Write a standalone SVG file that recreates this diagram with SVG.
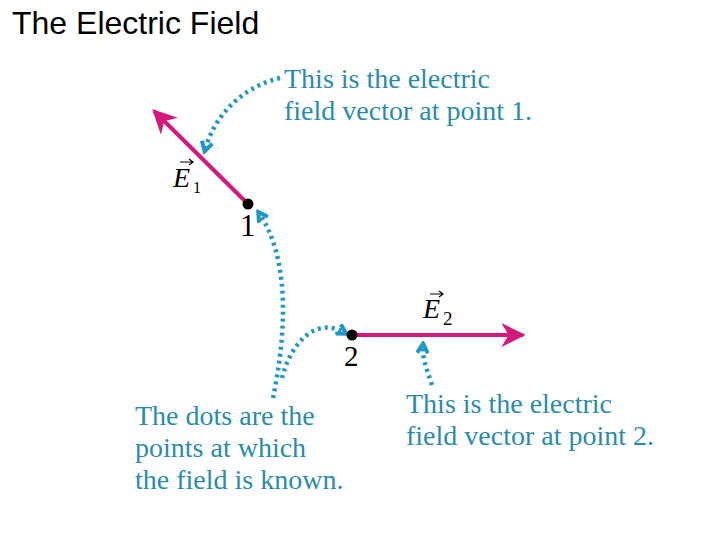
<svg xmlns="http://www.w3.org/2000/svg" width="720" height="540" viewBox="0 0 720 540">
<style>
.title{font-family:"Liberation Sans",Arial,sans-serif;font-size:32px;fill:#000}
.note{font-family:"Liberation Serif","Times New Roman",serif;font-size:28px;fill:#2a8bab}
.lbl{font-family:"Liberation Serif","Times New Roman",serif;fill:#000}
.vec{stroke:#d4187c;stroke-width:4;fill:none}
.dot{stroke:#1f98c6;stroke-width:4.5;fill:none;stroke-dasharray:3 4}
</style>
<defs>
<marker id="mag" viewBox="0 0 10 10" refX="9" refY="5" markerWidth="6" markerHeight="6" markerUnits="strokeWidth" orient="auto">
<path d="M0,0 L10,5 L0,10 L3,5 Z" fill="#d4187c"/>
</marker>
<marker id="chev" viewBox="0 0 10 10" refX="7" refY="5" markerWidth="3" markerHeight="3" markerUnits="strokeWidth" orient="auto">
<path d="M1,1 L8,5 L1,9" fill="none" stroke="#1f98c6" stroke-width="3"/>
</marker>
</defs>
<text class="title" x="12" y="34">The Electric Field</text>
<g id="connectors">
<path class="dot" d="M280,78 C245,86 215,113 205,150" marker-end="url(#chev)"/>
<path class="dot" d="M273,398 C285,340 292,262 259,213" marker-end="url(#chev)"/>
<path class="dot" d="M282,378 C290,345 315,315 345,333" marker-end="url(#chev)"/>
<path class="dot" d="M432,385 C428,372 422,360 423,345" marker-end="url(#chev)"/>
</g>
<g id="point1">
<line class="vec" x1="248" y1="204" x2="154" y2="111" marker-end="url(#mag)"/>
<circle cx="248" cy="204" r="5.5" fill="#000"/>
<text class="lbl" x="240" y="236" style="font-size:31px">1</text>
<text class="lbl" x="173" y="187" style="font-size:28px;font-style:italic">E</text>
<text class="lbl" x="193" y="193" style="font-size:16px">1</text>
<path d="M180,162 L192,162 M189,159 L193,162 L189,165" stroke="#000" stroke-width="1.2" fill="none"/>
</g>
<g id="point2">
<line class="vec" x1="352" y1="335" x2="523" y2="335" marker-end="url(#mag)"/>
<circle cx="352" cy="335" r="5.5" fill="#000"/>
<text class="lbl" x="344" y="366" style="font-size:29px">2</text>
<text class="lbl" x="423" y="318" style="font-size:28px;font-style:italic">E</text>
<text class="lbl" x="443" y="325" style="font-size:19px">2</text>
<path d="M430,294 L442,294 M439,291 L443,294 L439,297" stroke="#000" stroke-width="1.2" fill="none"/>
</g>
<g id="note1">
<text class="note" x="284" y="88">This is the electric</text>
<text class="note" x="284" y="120">field vector at point 1.</text>
</g>
<g id="note2">
<text class="note" x="406" y="413">This is the electric</text>
<text class="note" x="406" y="445">field vector at point 2.</text>
</g>
<g id="note3">
<text class="note" x="135" y="425">The dots are the</text>
<text class="note" x="135" y="457">points at which</text>
<text class="note" x="135" y="489">the field is known.</text>
</g>
</svg>
